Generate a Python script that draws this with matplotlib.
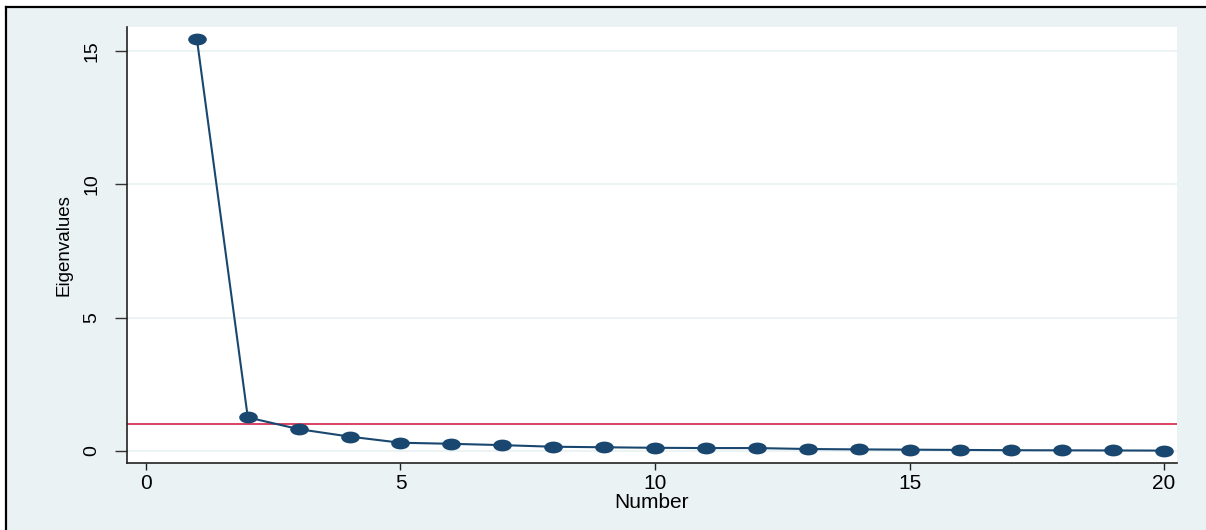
import numpy as np
import matplotlib
matplotlib.use("Agg")
from matplotlib import pyplot as plt
from matplotlib.markers import MarkerStyle
from matplotlib.transforms import Affine2D
from matplotlib.patches import Rectangle
from matplotlib.lines import Line2D

# scree plot values
number = [1, 2, 3, 4, 5, 6, 7, 8, 9, 10, 11, 12, 13, 14, 15, 16, 17, 18, 19, 20]
eigenvalues = [15.45, 1.26, 0.82, 0.54, 0.31, 0.27, 0.22, 0.16, 0.14, 0.12,
               0.11, 0.11, 0.075, 0.06, 0.05, 0.04, 0.03, 0.025, 0.02, 0.015]
cutoff = 1.0
xticks = [0, 5, 10, 15, 20]
yticks = [0, 5, 10, 15]

plt.rcParams['font.family'] = ['Liberation Sans', 'DejaVu Sans']

W, H = 1206, 530
fig = plt.figure(figsize=(W / 100, H / 100), dpi=100)
fig.patch.set_facecolor('white')

# stata-like outer region with a frame line on top and left
fig.add_artist(Rectangle((6 / W, 0), 1 - 6 / W, 1 - 7 / H, transform=fig.transFigure,
                         facecolor='#EAF2F3', edgecolor='none', zorder=0))
fig.add_artist(Line2D([6 / W, 1], [1 - 7 / H, 1 - 7 / H], transform=fig.transFigure,
                      color='black', lw=1.6, zorder=1))
fig.add_artist(Line2D([6 / W, 6 / W], [0, 1 - 7 / H], transform=fig.transFigure,
                      color='black', lw=1.6, zorder=1))

ax = fig.add_axes([127 / W, 67 / H, 1050 / W, 436 / H])
ax.set_facecolor('white')

for y in yticks:
    ax.axhline(y, color='#EAF2F3', lw=1.3, zorder=1)

ax.axhline(cutoff, color='#D0103A', lw=1.1, zorder=2)

oval = MarkerStyle('o', transform=Affine2D().scale(1.65, 1.0))
ax.plot(number, eigenvalues, color='#1A476F', lw=1.5, marker=oval,
        markersize=7.5, markerfacecolor='#1A476F', markeredgecolor='#1A476F', zorder=3)

ax.set_xlim(-0.373, 20.255)
ax.set_ylim(-0.45, 15.9)
ax.set_xticks(xticks)
ax.set_yticks(yticks)

for s in ['top', 'right']:
    ax.spines[s].set_visible(False)
for s in ['left', 'bottom']:
    ax.spines[s].set_color('#222222')
    ax.spines[s].set_linewidth(1.2)

ax.tick_params(axis='x', length=5, width=1, color='#222222', pad=3, labelsize=15)
ax.tick_params(axis='y', length=9, width=1, color='#333333', pad=10, labelsize=14,
               labelrotation=90)
for lbl in ax.get_yticklabels():
    lbl.set_verticalalignment('center')

ax.set_xlabel('Number', fontsize=15, labelpad=0)
ax.set_ylabel('Eigenvalues', fontsize=13.5, labelpad=8)

fig.savefig('out.png', dpi=100, facecolor=fig.get_facecolor())
